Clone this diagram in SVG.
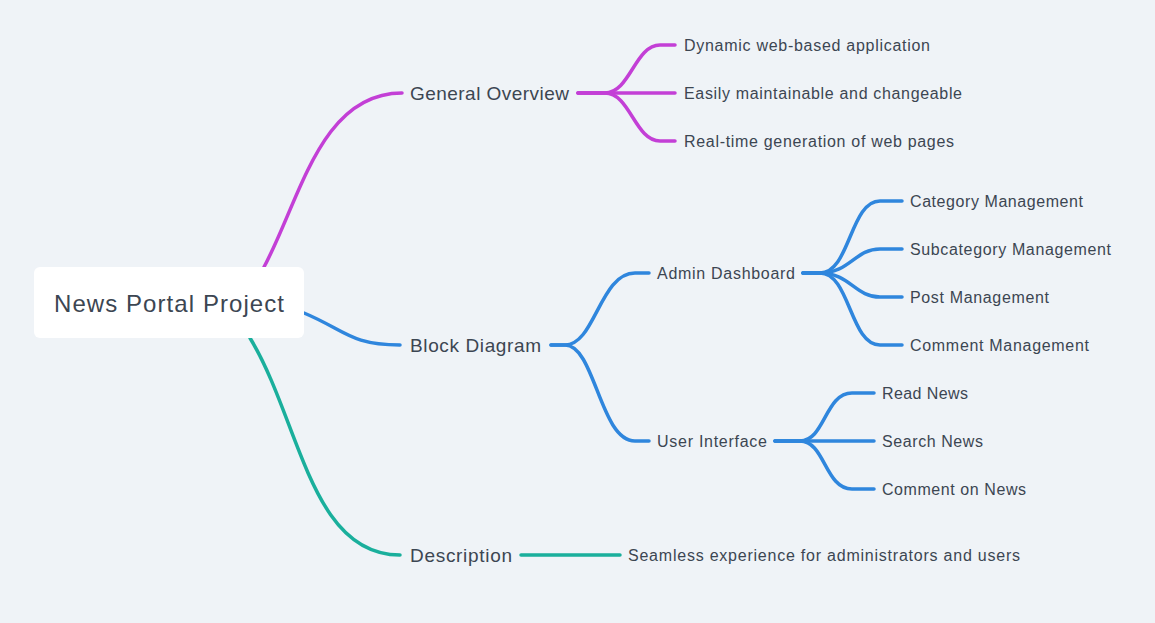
<svg xmlns="http://www.w3.org/2000/svg" width="1155" height="623" viewBox="0 0 1155 623">
<style>
.bg{fill:#eff3f7}
.c{fill:none;stroke-width:3.5;stroke-linecap:round}
.p{stroke:#c33fd6}
.b{stroke:#2f86dd}
.t{stroke:#1aaf9c}
text{font-family:"Liberation Sans",Arial,sans-serif;fill:#3c4652}
.l1{font-size:19px}
.l2{font-size:16px}
.root{font-size:24px}
</style>
<rect class="bg" x="0" y="0" width="1155" height="623"/>
<g id="connectors">
<path class="c p" d="M264,267 C300,200 320,93 402,93"/>
<path class="c b" d="M304,313 C345,330 350,345 400,345"/>
<path class="c t" d="M250,338 C300,420 310,555 400,555"/>
<path class="c p" d="M578,93 L605,93 C630,93 635,45 660,45 L675,45"/>
<path class="c p" d="M578,93 L675,93"/>
<path class="c p" d="M578,93 L605,93 C630,93 635,141 660,141 L675,141"/>
<path class="c b" d="M551,345 L565,345 C595,345 600,273 635,273 L649,273"/>
<path class="c b" d="M551,345 L565,345 C595,345 600,441 635,441 L649,441"/>
<path class="c b" d="M803,273 L820,273 C850,273 850,201 880,201 L902,201"/>
<path class="c b" d="M803,273 L820,273 C850,273 855,249 880,249 L902,249"/>
<path class="c b" d="M803,273 L820,273 C850,273 855,297 880,297 L902,297"/>
<path class="c b" d="M803,273 L820,273 C850,273 850,345 880,345 L902,345"/>
<path class="c b" d="M775,441 L800,441 C825,441 825,393 852,393 L874,393"/>
<path class="c b" d="M775,441 L874,441"/>
<path class="c b" d="M775,441 L800,441 C825,441 825,489 852,489 L874,489"/>
<path class="c t" d="M521,555 L620,555"/>
</g>
<g id="root">
<rect x="34" y="267" width="270" height="71" rx="6" fill="#ffffff"/>
<text class="root" x="54" y="312" textLength="230" lengthAdjust="spacing">News Portal Project</text>
</g>
<g id="general-overview"><text class="l1" x="410" y="100" textLength="159" lengthAdjust="spacing">General Overview</text></g>
<g id="block-diagram"><text class="l1" x="410" y="352" textLength="131" lengthAdjust="spacing">Block Diagram</text></g>
<g id="description"><text class="l1" x="410" y="562" textLength="102" lengthAdjust="spacing">Description</text></g>
<g id="go1"><text class="l2" x="684" y="51" textLength="246" lengthAdjust="spacing">Dynamic web-based application</text></g>
<g id="go2"><text class="l2" x="684" y="99" textLength="278" lengthAdjust="spacing">Easily maintainable and changeable</text></g>
<g id="go3"><text class="l2" x="684" y="147" textLength="270" lengthAdjust="spacing">Real-time generation of web pages</text></g>
<g id="admin"><text class="l2" x="657" y="279" textLength="138" lengthAdjust="spacing">Admin Dashboard</text></g>
<g id="user"><text class="l2" x="657" y="447" textLength="110" lengthAdjust="spacing">User Interface</text></g>
<g id="a1"><text class="l2" x="910" y="207" textLength="173" lengthAdjust="spacing">Category Management</text></g>
<g id="a2"><text class="l2" x="910" y="255" textLength="201" lengthAdjust="spacing">Subcategory Management</text></g>
<g id="a3"><text class="l2" x="910" y="303" textLength="139" lengthAdjust="spacing">Post Management</text></g>
<g id="a4"><text class="l2" x="910" y="351" textLength="179" lengthAdjust="spacing">Comment Management</text></g>
<g id="u1"><text class="l2" x="882" y="399" textLength="86" lengthAdjust="spacing">Read News</text></g>
<g id="u2"><text class="l2" x="882" y="447" textLength="101" lengthAdjust="spacing">Search News</text></g>
<g id="u3"><text class="l2" x="882" y="495" textLength="144" lengthAdjust="spacing">Comment on News</text></g>
<g id="d1"><text class="l2" x="628" y="561" textLength="392" lengthAdjust="spacing">Seamless experience for administrators and users</text></g>
</svg>
